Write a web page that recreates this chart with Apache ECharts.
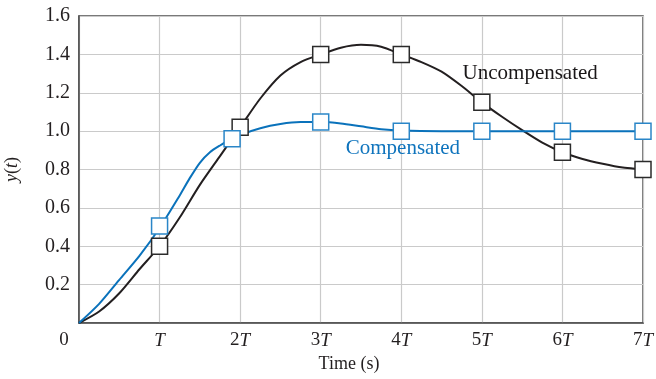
<!DOCTYPE html>
<html>
<head>
<meta charset="utf-8">
<script src="https://cdn.jsdelivr.net/npm/echarts@6/dist/echarts.min.js"></script>
<style>html,body{margin:0;padding:0;background:#fff}#c{width:656px;height:379px}</style>
</head>
<body>
<div id="c"></div>
<script>
// x in units of T
var uncompT = [0, 0.25, 0.5, 0.75, 1.0, 1.25, 1.5, 1.75, 2.0, 2.25, 2.5, 2.75, 3.0, 3.25, 3.5, 3.75, 4.0, 4.25, 4.5, 4.75, 5.0, 5.25, 5.5, 5.75, 6.0, 6.25, 6.5, 6.75, 7.0];
var uncompCurve = [0, 0.06, 0.155, 0.28, 0.40, 0.55, 0.72, 0.87, 1.02, 1.17, 1.29, 1.36, 1.40, 1.435, 1.45, 1.44, 1.40, 1.36, 1.31, 1.235, 1.15, 1.075, 1.005, 0.94, 0.89, 0.855, 0.83, 0.81, 0.80];
var compT = [0, 0.25, 0.5, 0.75, 1.0, 1.25, 1.375, 1.5, 1.625, 1.75, 1.875, 2.0, 2.25, 2.5, 2.75, 3.0, 3.25, 3.5, 3.75, 4.0, 4.5, 5.0, 5.5, 6.0, 6.5, 7.0];
var compCurve = [0, 0.10, 0.225, 0.35, 0.495, 0.665, 0.755, 0.835, 0.89, 0.925, 0.955, 0.98, 1.015, 1.037, 1.047, 1.047, 1.04, 1.025, 1.01, 1.003, 1.0, 1.0, 1.0, 1.0, 1.0, 1.0];
var uncompSampleT = [1, 2, 3, 4, 5, 6, 7];
var uncompSamples = [0.40, 1.02, 1.40, 1.40, 1.15, 0.89, 0.80];
var compSampleT = [1, 1.9, 3, 4, 5, 6, 7];
var compSamples = [0.505, 0.96, 1.047, 1.0, 1.0, 1.0, 1.0];
var xTickLabels = ['0', 'T', '2T', '3T', '4T', '5T', '6T', '7T'];
var labelUncomp = {text: 'Uncompensated', t: 5.6, y: 1.30};
var labelComp = {text: 'Compensated', t: 4.02, y: 0.91};

function zip(a, b) { return a.map(function (v, i) { return [v, b[i]]; }); }

var BLACK = '#231f20', BLUE = '#0a72bb';
var FONT = '"Liberation Serif", "DejaVu Serif", serif';

var chart = echarts.init(document.getElementById('c'), null, {renderer: 'canvas'});
chart.setOption({
  animation: false,
  backgroundColor: '#fff',
  grid: {left: 79, right: 13, top: 16, bottom: 56, outerBoundsMode: 'none', containLabel: false,
    show: true, borderColor: '#4d4d4d', borderWidth: 1.5, backgroundColor: 'transparent'},
  xAxis: {
    type: 'value', min: 0, max: 7, interval: 1,
    name: 'Time (s)', nameLocation: 'middle', nameGap: 28,
    nameTextStyle: {fontFamily: FONT, fontSize: 18, color: '#231f20', padding: [0, 24, 0, 0]},
    axisLine: {show: true, lineStyle: {color: '#4d4d4d', width: 1.5}},
    axisTick: {show: false},
    splitLine: {show: true, lineStyle: {color: '#cacaca', width: 1.2}},
    axisLabel: {
      margin: 8, fontFamily: FONT, fontSize: 19, color: '#231f20',
      formatter: function (v) {
        var s = xTickLabels[Math.round(v)];
        if (s === '0') return '{z|0}';
        if (s === 'T') return '{i|T}';
        return '{n|' + s.slice(0, -1) + '}{i|T}';
      },
      rich: {
        z: {fontFamily: FONT, fontSize: 19, color: '#231f20', padding: [0, 30, 0, 0]},
        n: {fontFamily: FONT, fontSize: 19, color: '#231f20'},
        i: {fontFamily: FONT, fontSize: 19, fontStyle: 'italic', color: '#231f20'}
      }
    }
  },
  yAxis: {
    type: 'value', min: 0, max: 1.6, interval: 0.2,
    name: '{i|y}({i|t})', nameLocation: 'middle', nameGap: 58,
    nameTextStyle: {fontFamily: FONT, fontSize: 18, color: '#231f20',
      rich: {i: {fontFamily: FONT, fontSize: 18, fontStyle: 'italic', color: '#231f20'}}},
    axisLine: {show: true, lineStyle: {color: '#4d4d4d', width: 1.5}},
    axisTick: {show: false},
    splitLine: {show: true, lineStyle: {color: '#cacaca', width: 1.2}},
    axisLabel: {
      margin: 9, fontFamily: FONT, fontSize: 20, color: '#231f20',
      formatter: function (v) { return v === 0 ? '' : v.toFixed(1); }
    }
  },
  series: [
    {
      type: 'line', data: zip(uncompT, uncompCurve), smooth: 0.25, showSymbol: false,
      lineStyle: {color: BLACK, width: 2}, z: 3
    },
    {
      type: 'line', data: zip(compT, compCurve), smooth: 0.25, showSymbol: false,
      lineStyle: {color: BLUE, width: 2}, z: 3
    },
    {
      type: 'scatter', data: zip(uncompSampleT, uncompSamples), symbol: 'rect', symbolSize: 16,
      itemStyle: {color: '#fff', borderColor: '#2b2b2b', borderWidth: 1.5, opacity: 1}, z: 5
    },
    {
      type: 'scatter', data: zip(compSampleT, compSamples), symbol: 'rect', symbolSize: 16,
      itemStyle: {color: '#fff', borderColor: '#2a86c8', borderWidth: 1.5, opacity: 1}, z: 6
    },
    {
      type: 'scatter', symbolSize: 2, itemStyle: {color: 'rgba(0,0,0,0)'}, z: 7, silent: true,
      data: [
        {name: labelUncomp.text, value: [labelUncomp.t, labelUncomp.y], label: {color: '#1a1718'}},
        {name: labelComp.text, value: [labelComp.t, labelComp.y], label: {color: '#0f74bd'}}
      ],
      label: {show: true, position: 'inside', fontFamily: FONT, fontSize: 21, opacity: 1,
        textBorderWidth: 0, textShadowBlur: 0,
        formatter: function (p) { return p.name; }}
    }
  ]
});
</script>
</body>
</html>
